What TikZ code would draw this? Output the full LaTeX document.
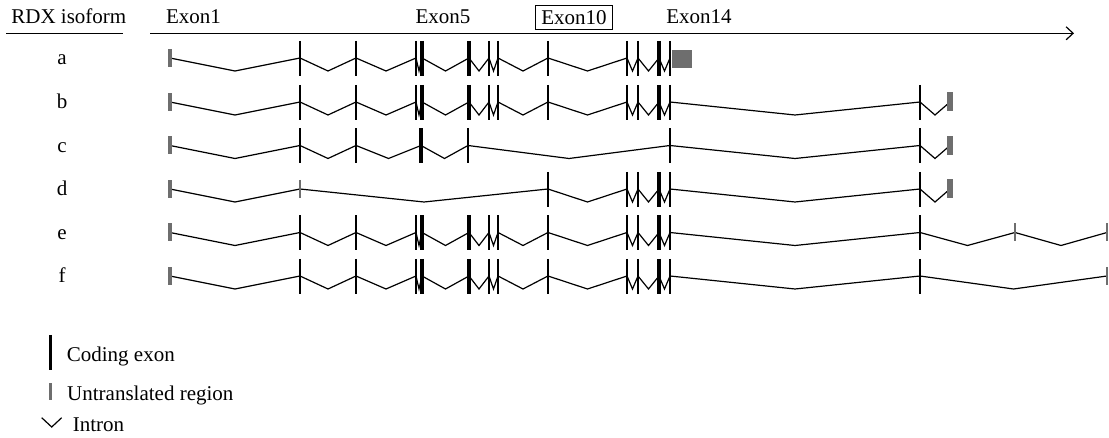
\documentclass[tikz,border=0pt]{standalone}
\usepackage{fontspec}
\setmainfont{Liberation Serif}
\usetikzlibrary{arrows.meta}
\definecolor{utr}{RGB}{110,110,110}
\tikzset{
  intron/.style={line width=1.2pt, black, line join=miter},
  coding/.style={line width=2.4pt, black},
  codingthick/.style={line width=3.6pt, black},
  utrbar/.style={fill=utr, draw=none},
  utrtick/.style={line width=1.3pt, utr},
  lbl/.style={font=\fontsize{21}{24}\selectfont, inner sep=0pt, anchor=base},
  lblw/.style={lbl, anchor=base west},
}
\newcommand\intronchain[2]{%
  \foreach \xx [remember=\xx as \px (initially -1)] in {#2} {%
    \ifdim\px pt>-1pt \draw[intron] (\px,#1) -- ({(\px+\xx)/2},#1+13) -- (\xx,#1);\fi
  }}
\newcommand\codingset[2]{\foreach \xx in {#2} \draw[coding] (\xx,#1-17) -- (\xx,#1+18);}
\newcommand\codingthickset[2]{\foreach \xx in {#2} \draw[codingthick] (\xx,#1-17) -- (\xx,#1+18);}
\newcommand\fiveutr[1]{\fill[utr] (168.4,#1-9) rectangle (171.6,#1+9);}
\newcommand\threeutr[1]{\fill[utr] (947,#1-9.5) rectangle (953,#1+9.5);}
\newcommand\utrticks[2]{\foreach \xx in {#2} \draw[utrtick] (\xx,#1-9) -- (\xx,#1+9);}
\begin{document}
\begin{tikzpicture}[x=1pt,y=-1pt]
\useasboundingbox (0,0) rectangle (1109,438);
% header
\node[lbl] (hdr) at (68.8,23.5) {RDX isoform};
\draw[line width=1.2pt] (6,33.3) -- (123,33.3);
\coordinate (axisL) at (150,33.3);
\coordinate (axisR) at (1074,33.3);
\draw[line width=1.2pt, -{Straight Barb[length=7pt,width=13pt,line width=1.2pt]}] (axisL) -- (axisR);
\node[lbl] (ex1) at (193.5,23.5) {Exon1};
\node[lbl] (ex5) at (443,23.5) {Exon5};
\node[draw, line width=0.9pt, inner sep=0pt, minimum width=76.6pt, minimum height=24.3pt,
      font=\fontsize{21}{24}\selectfont] (ex10) at (574,17.2) {Exon10};
\node[lbl] (ex14) at (699,23.5) {Exon14};
% row labels
\node[lbl] (ra) at (62,65) {a};
\node[lbl] (rb) at (62,109) {b};
\node[lbl] (rc) at (62,152.5) {c};
\node[lbl] (rd) at (62,196) {d};
\node[lbl] (re) at (62,239.5) {e};
\node[lbl] (rf) at (62,283) {f};
% row a
\intronchain{58}{170,300,356,416,422,469,489,498,548,627,638,659,670}
\fiveutr{58}
\codingset{58}{300,356,416,489,498,548,627,638,670}
\codingthickset{58}{422,469,659}
\fill[utr] (672,50) rectangle (692,68);
% row b
\intronchain{102}{170,300,356,416,422,469,489,498,548,627,638,659,670,920,950}
\fiveutr{102}
\codingset{102}{300,356,416,489,498,548,627,638,670,920}
\codingthickset{102}{422,469,659}
\threeutr{102}
% row c
\intronchain{145.5}{170,300,356,421,468,670,920,950}
\fiveutr{145.5}
\codingset{145.5}{300,356,468,670,920}
\codingthickset{145.5}{421}
\threeutr{145.5}
% row d
\intronchain{189}{170,300,548,627,638,659,670,920,950}
\fiveutr{189}
\utrticks{189}{300}
\codingset{189}{548,627,638,670,920}
\codingthickset{189}{659}
\threeutr{189}
% row e
\intronchain{232.5}{170,300,356,416,422,469,489,498,548,627,638,659,670,920,1015,1107}
\fiveutr{232.5}
\codingset{232.5}{300,356,416,489,498,548,627,638,670,920}
\codingthickset{232.5}{422,469,659}
\utrticks{232.5}{1015,1107}
% row f
\intronchain{276}{170,300,356,416,422,469,489,498,548,627,638,659,670,920,1107}
\fiveutr{276}
\codingset{276}{300,356,416,489,498,548,627,638,670,920}
\codingthickset{276}{422,469,659}
\utrticks{276}{1107}
% legend
\draw[coding] (50.5,335) -- (50.5,370);
\node[lblw] (lcod) at (66.7,361.5) {Coding exon};
\fill[utr] (49.2,383) rectangle (52.2,400);
\node[lblw] (lutr) at (67,400) {Untranslated region};
\draw[intron] (41.7,417.7) -- (51.7,427) -- (61.7,417.7);
\node[lblw] (lint) at (72.7,431.7) {Intron};
\end{tikzpicture}
\end{document}
